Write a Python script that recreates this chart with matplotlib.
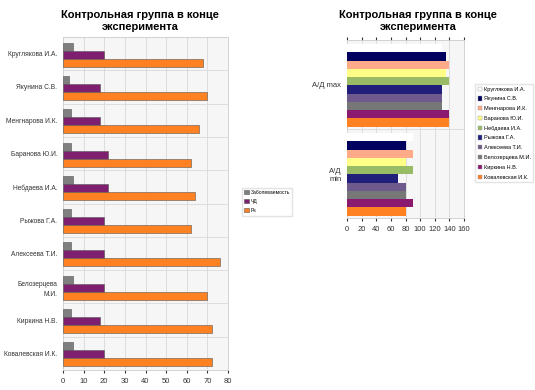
import matplotlib.pyplot as plt
import numpy as np

plt.rcParams["font.family"] = ["Liberation Sans", "DejaVu Sans"]

# left chart data
names = ["Круглякова И.А.", "Якунина С.В.", "Менгнарова И.К.", "Баранова Ю.И.",
         "Небдаева И.А.", "Рыжова Г.А.", "Алексеева Т.И.", "Белозерцева\nМ.И.",
         "Киркина Н.В.", "Ковалевская И.К."]
morbidity = [5, 3, 4, 4, 5, 4, 4, 5, 4, 5]
resp_rate = [20, 18, 18, 22, 22, 20, 20, 20, 18, 20]
pulse = [68, 70, 66, 62, 64, 62, 76, 70, 72, 72]
left_series = ["Заболеваемость", "ЧД", "Рs"]
left_colors = ["#7f7f7f", "#7e1f70", "#ff8121"]

# right chart data
bp_groups = ["А/Д max", "А/Д\nmin"]
legend_names = ["Круглякова И.А.", "Якунина С.В.", "Менгнарова И.К.", "Баранова Ю.И.",
                "Небдаева И.А.", "Рыжова Г.А.", "Алексеева Т.И.", "Белозерцева М.И.",
                "Киркина Н.В.", "Ковалевская И.К."]
bp_max = [130, 135, 140, 135, 140, 130, 130, 130, 140, 140]
bp_min = [90, 80, 90, 80, 90, 70, 80, 80, 90, 80]
right_colors = ["#ffffff", "#00005e", "#ffaa88", "#ffff88", "#99bb66",
                "#221f7a", "#6e5a8c", "#777777", "#8a1a70", "#ff8121"]

title = "Контрольная группа в конце\nэксперимента"
grid_c = "#d9d9d9"

fig = plt.figure(figsize=(5.35, 3.9), dpi=100)

# ---- left chart
ax = fig.add_axes([63 / 535, 1 - 370 / 390, 165 / 535, 333 / 390])
ax.set_facecolor("#f6f6f6")
y = np.arange(len(names))
h = 0.24
handles = []
for k, vals in enumerate([morbidity, resp_rate, pulse]):
    b = ax.barh(y + (k - 1) * h + 0.03, vals, height=h, color=left_colors[k],
                edgecolor="#555555", linewidth=0.4, label=left_series[k], zorder=3)
    handles.append(b)
ax.set_ylim(len(names) - 0.5, -0.5)
ax.set_xlim(0, 80)
ax.set_xticks(range(0, 81, 10))
ax.set_yticks(y)
ax.set_yticklabels(names, fontsize=4.8, linespacing=1.6, color="#333333")
ax.tick_params(axis="x", labelsize=5.5, length=2, colors="#333333")
ax.tick_params(axis="y", length=0, pad=4)
for v in range(10, 81, 10):
    ax.axvline(v, color=grid_c, lw=0.6, zorder=1)
for yy in np.arange(0.5, len(names) - 0.5, 1):
    ax.axhline(yy, color=grid_c, lw=0.6, zorder=1)
for s in ax.spines.values():
    s.set_color("#cccccc")
    s.set_linewidth(0.6)
fig.text(140 / 535, 1 - 21 / 390, title, ha="center", va="center",
         fontsize=8, fontweight="bold", linespacing=1.2)
fig.legend(handles=handles, loc="upper left", bbox_to_anchor=(239 / 535, 1 - 185 / 390),
           fontsize=3.6, frameon=True, fancybox=False, edgecolor="#dddddd",
           handlelength=0.9, handleheight=0.9, borderpad=0.5, labelspacing=0.8,
           handletextpad=0.4)

# ---- right chart
ax2 = fig.add_axes([347 / 535, 1 - 218 / 390, 117 / 535, 178 / 390])
ax2.set_facecolor("#f6f6f6")
n = len(legend_names)
bh = 0.093
rh = []
for i in range(n):
    vals = [bp_max[i], bp_min[i]]
    b = ax2.barh(np.arange(2) + (i - (n - 1) / 2) * bh + 0.01, vals, height=bh,
                 color=right_colors[i], edgecolor="none", label=legend_names[i], zorder=3)
    rh.append(b)
ax2.set_ylim(1.5, -0.5)
ax2.set_xlim(0, 160)
ax2.set_xticks(range(0, 161, 20))
ax2.set_yticks([0, 1])
ax2.set_yticklabels(bp_groups, fontsize=5.5, color="#333333")
ax2.tick_params(axis="x", labelsize=5.5, length=2, colors="#333333", top=True)
ax2.tick_params(axis="y", length=0, pad=4)
for v in range(20, 161, 20):
    ax2.axvline(v, color=grid_c, lw=0.6, zorder=1)
ax2.axhline(0.5, color=grid_c, lw=0.6, zorder=1)
for s in ax2.spines.values():
    s.set_color("#cccccc")
    s.set_linewidth(0.6)
fig.text(418 / 535, 1 - 21 / 390, title, ha="center", va="center",
         fontsize=8, fontweight="bold", linespacing=1.2)
leg2 = fig.legend(handles=rh, loc="upper left", bbox_to_anchor=(472 / 535, 1 - 81 / 390),
                  fontsize=4.0, frameon=True, fancybox=False, edgecolor="#dddddd",
                  handlelength=0.8, handleheight=0.8, borderpad=0.5, labelspacing=0.85,
                  handletextpad=0.3)
for p in leg2.get_patches():
    p.set_edgecolor("#999999")
    p.set_linewidth(0.3)

fig.savefig("out.png", dpi=100, facecolor="white")
